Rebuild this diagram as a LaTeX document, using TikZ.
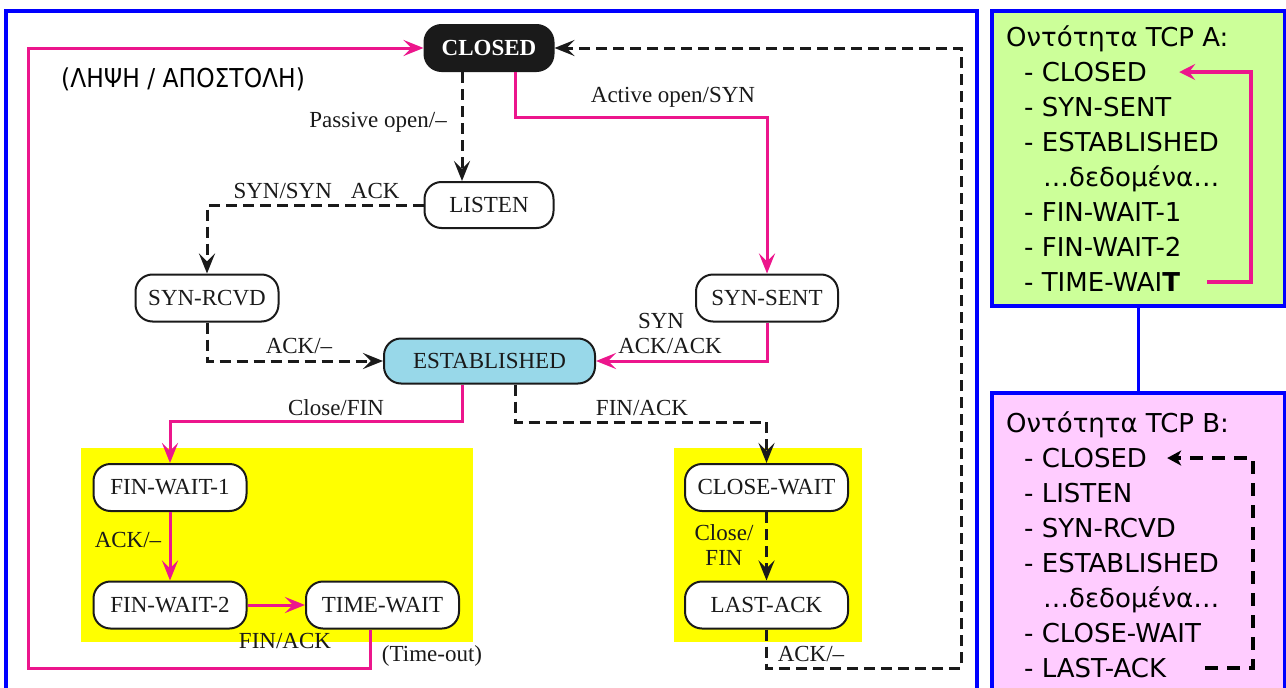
\documentclass[tikz,border=0pt]{standalone}
\usepackage{fontspec}
\setmainfont{Liberation Serif}
\newfontfamily\gsans{DejaVu Sans}
\newfontfamily\gsanscond[FakeStretch=0.9]{DejaVu Sans}
\usetikzlibrary{arrows.meta}
\definecolor{tcppink}{RGB}{236,22,140}
\definecolor{tcpblue}{RGB}{0,0,255}
\definecolor{estblue}{RGB}{152,216,233}
\definecolor{agreen}{RGB}{204,255,153}
\definecolor{bpink}{RGB}{255,204,255}
\definecolor{ink}{RGB}{26,26,26}
\definecolor{hiyellow}{RGB}{255,255,0}
\newcommand\diagfont{\fontsize{23pt}{25pt}\selectfont}
\newcommand\tcplistfont{\gsans\fontsize{26pt}{30pt}\selectfont}
\begin{document}
\begin{tikzpicture}[x=1pt,y=-1pt,
  st/.style={draw=ink, line width=2pt, rounded corners=17pt, fill=white,
    minimum height=46pt, inner sep=0pt, font=\diagfont, text=ink},
  pk/.style={draw=tcppink, line width=3pt, -{Stealth[length=20pt,width=16pt,inset=8pt]}},
  bk/.style={draw=ink, line width=3pt, dash pattern=on 11pt off 6pt,
    -{Stealth[length=20pt,width=16pt,inset=8pt]}},
  lbl/.style={font=\diagfont, inner sep=0pt, text=ink},
  lst/.style={font=\tcplistfont, inner sep=0pt, anchor=base west, text=black},
  frame/.style={draw=tcpblue, line width=3.8pt, inner sep=0pt},
]
\useasboundingbox (0,0) rectangle (1286,688);
\clip (0,0) rectangle (1286,688);
\fill[white] (0,0) rectangle (1286,688);

% big frame
\draw[tcpblue, line width=4.2pt] (6,11) rectangle (977,720);

% yellow areas
\fill[hiyellow] (81,448) rectangle (473,642);
\fill[hiyellow] (674,448) rectangle (862,642);

% states
\node[st, fill=ink, text=white, font=\diagfont\bfseries, minimum width=129pt] (closed) at (489,48) {CLOSED};
\node[st, minimum width=129pt] (listen) at (489,205) {LISTEN};
\node[st, minimum width=143pt, minimum height=47pt] (synrcvd) at (207,298) {SYN-RCVD};
\node[st, minimum width=142pt, minimum height=47pt] (synsent) at (767,298) {SYN-SENT};
\node[st, fill=estblue, minimum width=211pt, minimum height=45pt] (est) at (489.5,361) {ESTABLISHED};
\node[st, minimum width=153pt, minimum height=47pt] (fw1) at (170,487.5) {FIN-WAIT-1};
\node[st, minimum width=153pt, minimum height=47pt] (fw2) at (170,605) {FIN-WAIT-2};
\node[st, minimum width=153pt, minimum height=47pt] (tw) at (382.5,605) {TIME-WAIT};
\node[st, minimum width=163pt, minimum height=47pt] (cw) at (766.5,487.5) {CLOSE-WAIT};
\node[st, minimum width=163pt, minimum height=47pt] (la) at (766.5,605) {LAST-ACK};

% helper coordinates
\coordinate (c1) at (515,117);
\coordinate (c2) at (462,0);
\coordinate (c3) at (462,421);
\coordinate (c4) at (515,422);
\coordinate (c5) at (370,668);
\coordinate (c6) at (28,668);
\coordinate (c7) at (766.5,668);
\coordinate (c8) at (961,668);

% transitions
\draw[pk] (closed.south -| c1) -- (c1) -| (synsent.north);
\draw[bk] (closed.south -| c2) -- (listen.north -| c2);
\draw[bk] (listen.west) -| (synrcvd.north);
\draw[bk] (synrcvd.south) |- (est.west);
\draw[pk] (synsent.south) |- (est.east);
\draw[pk] (est.south -| c3) -- (c3) -| (fw1.north);
\draw[bk] (est.south -| c4) -- (c4) -| (cw.north);
\draw[pk] (fw1) -- (fw2);
\draw[pk] (fw2) -- (tw);
\draw[bk] (cw) -- (la);
\draw[pk] (tw.south -| c5) -- (c5) -- (c6) |- (closed.west);
\draw[bk] (la.south) -- (c7) -- (c8) |- (closed.east);

% labels
\node[lbl] (lact) at (673,97) {Active open/SYN};
\node[lbl, anchor=east] (lpas) at (447,122) {Passive open/--};
\node[lbl] (lsyn) at (316.5,191) {SYN/SYN\hspace{19pt}ACK};
\node[lbl] (lack1) at (299,346) {ACK/--};
\node[lbl] (lsyn2) at (661,321) {SYN};
\node[lbl] (lack2) at (670,346) {ACK/ACK};
\node[lbl] (lclose) at (336,408) {Close/FIN};
\node[lbl] (lfin) at (642,408) {FIN/ACK};
\node[lbl] (lack3) at (128,540) {ACK/--};
\node[lbl] (lfin2) at (285,641) {FIN/ACK};
\node[lbl] (ltime) at (432,656) {(Time-out)};
\node[lbl, align=center, font=\fontsize{23pt}{25pt}\selectfont] (lclfin) at (724,545.5) {Close/\\FIN};
\node[lbl] (lack4) at (811,654) {ACK/--};
\node[font=\gsanscond\fontsize{26pt}{28pt}\selectfont, inner sep=0pt, anchor=west, text=black] (title) at (61,79) {(ΛΗΨΗ / ΑΠΟΣΤΟΛΗ)};

% right boxes
\node[frame, fill=agreen, minimum width=293pt, minimum height=295pt] (boxA) at (1138.5,158.5) {};
\node[frame, fill=bpink, minimum width=293pt, minimum height=326pt] (boxB) at (1138.5,556) {};
\draw[tcpblue, line width=3.3pt] (boxA.south) -- (boxB.north);

\node[lst] (aT) at (1006,46.5) {Οντότητα TCP A:};
\node[lst] (aCL) at (1024,81.5) {- CLOSED};
\node[lst] (aSS) at (1024,116.5) {- SYN-SENT};
\node[lst] (aES) at (1024,151.5) {- ESTABLISHED};
\node[lst] (aDD) at (1043,186.5) {…δεδομένα…};
\node[lst] (aF1) at (1024,221.5) {- FIN-WAIT-1};
\node[lst] (aF2) at (1024,256.5) {- FIN-WAIT-2};
\node[lst] (aTW) at (1024,291.5) {- TIME-WAI\textbf{T}};

\node[lst] (bT) at (1006,432.5) {Οντότητα TCP B:};
\node[lst] (bCL) at (1024,467.5) {- CLOSED};
\node[lst] (bLI) at (1024,502.5) {- LISTEN};
\node[lst] (bSR) at (1024,537.5) {- SYN-RCVD};
\node[lst] (bES) at (1024,572.5) {- ESTABLISHED};
\node[lst] (bDD) at (1043,607.5) {…δεδομένα…};
\node[lst] (bCW) at (1024,642.5) {- CLOSE-WAIT};
\node[lst] (bLA) at (1024,677.5) {- LAST-ACK};

\coordinate (ar1) at (1251,0);
\coordinate (br1) at (1253,0);
\draw[draw=tcppink, line width=3.3pt, -{Stealth[length=16pt,width=16pt,inset=6pt]}]
  ([xshift=27pt]aTW.east) -| (ar1 |- aCL.east) -- ([xshift=32pt]aCL.east);
\draw[draw=black, line width=4pt, dash pattern=on 13pt off 9pt, -{Stealth[length=14pt,width=15pt,inset=4pt]}]
  ([xshift=39pt]bLA.east) -| (br1 |- bCL.east) -- ([xshift=20pt]bCL.east);
\end{tikzpicture}
\end{document}
